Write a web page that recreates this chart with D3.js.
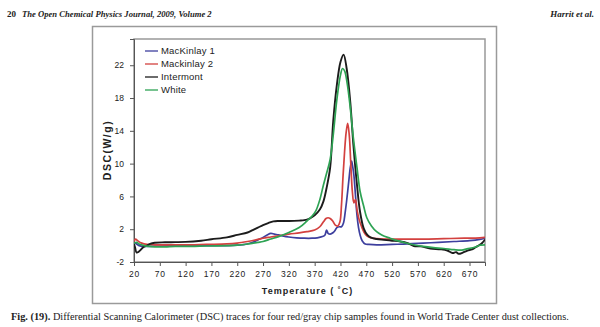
<!DOCTYPE html>
<html><head><meta charset="utf-8">
<script src="https://cdn.jsdelivr.net/npm/d3@7"></script>
<style>
html,body{margin:0;padding:0;background:#fff;}
svg{display:block;}
</style></head>
<body>
<script>
// ---- data ----
const seriesNames = ["MacKinlay 1", "Mackinlay 2", "Intermont", "White"];
const seriesColors = ["#3d3f9e", "#d3413f", "#1c1c1c", "#2ea354"];

const xTicks = [20,70,120,170,220,270,320,370,420,470,520,570,620,670];
const yTicks = [-2,2,6,10,14,18,22];

const tMacKinlay1 = [20,25,30,40,50,70,100,130,160,200,220,240,250,260,270,278,285,292,300,310,320,335,350,365,375,385,390,393,396,400,406,410,413,418,422,426,429,432,436,439,441.6,444,446,449,452,455,458,462,468,475,490,520,550,580,610,640,670,690,700];
const vMacKinlay1 = [0.4,0.2,0.0,-0.1,-0.1,-0.05,0.0,0.0,0.0,0.0,0.05,0.2,0.4,0.7,1.0,1.3,1.5,1.4,1.3,1.15,1.05,0.95,0.9,0.9,0.95,1.1,1.3,1.9,1.5,1.4,1.6,1.9,2.2,2.3,2.3,2.8,4.0,5.5,7.8,9.5,10.3,9.5,8.6,6.2,3.7,2.2,1.3,0.6,0.2,0.15,0.1,0.15,0.2,0.3,0.4,0.5,0.6,0.75,0.9];

const tMackinlay2 = [20,23,27,35,45,60,80,100,130,160,200,220,240,260,270,285,300,320,340,355,370,380,387,392,396,400,405,410,415,419,422,425,428,431,434,437,440,443,446,449,452,456,461,466,471,480,490,510,540,580,620,660,690,700];
const vMackinlay2 = [0.5,0.8,0.6,0.3,0.15,0.1,0.1,0.1,0.1,0.15,0.2,0.3,0.5,0.75,0.9,1.05,1.2,1.4,1.55,1.7,1.9,2.3,2.9,3.3,3.4,3.3,3.0,2.5,2.4,2.9,5.0,8.5,11.5,13.8,14.9,13.5,10.0,6.6,5.2,5.6,4.4,3.2,2.3,1.6,1.2,0.95,0.85,0.8,0.8,0.8,0.85,0.9,0.95,1.0];

const tIntermont = [20,22,25,30,38,45,51,60,80,100,120,150,170,200,220,240,250,260,270,280,290,300,320,340,350,360,370,380,387,393,400,406,413,420,426,432,439,445,452,458,465,472,478,490,504,520,536,550,562,575,594,614,627,637,644,649,657,666,675,682,690,695,700];
const vIntermont = [0.2,-0.2,-0.85,-0.7,-0.2,0.0,0.2,0.35,0.4,0.42,0.45,0.6,0.77,1.0,1.3,1.6,1.9,2.2,2.5,2.75,2.95,3.0,3.0,3.05,3.1,3.3,3.7,4.4,5.4,7.0,9.5,15.2,19.6,22.4,23.3,21.6,17.5,12.3,7.4,4.1,2.1,1.3,1.0,0.8,0.7,0.6,0.5,0.3,-0.05,-0.1,-0.35,-0.45,-0.6,-0.9,-0.8,-1.0,-0.85,-0.6,-0.45,-0.2,0.1,0.35,0.75];

const tWhite = [20,25,30,40,50,60,80,100,130,160,200,220,240,260,270,285,300,320,340,355,365,372,380,387,393,400,406,413,420,424,428,433,439,445,452,458,465,471,480,490,500,516,530,545,562,580,600,620,640,655,665,680,691,700];
const vWhite = [0.3,0.4,0.2,0.0,-0.1,-0.15,-0.15,-0.1,-0.1,-0.05,0.0,0.05,0.2,0.4,0.5,0.8,1.1,1.6,2.2,3.0,3.6,4.2,5.6,7.4,8.8,10.5,13.5,17.8,20.8,21.6,21.3,19.8,16.8,13.1,9.5,6.6,4.8,3.4,2.4,1.7,1.3,0.9,0.6,0.35,0.1,-0.1,-0.25,-0.35,-0.5,-0.55,-0.4,-0.2,0.05,0.1];

const seriesT = [tMacKinlay1, tMackinlay2, tIntermont, tWhite];
const seriesV = [vMacKinlay1, vMackinlay2, vIntermont, vWhite];

const headerPage = "20";
const headerLeft = "The Open Chemical Physics Journal, 2009, Volume 2";
const headerRight = "Harrit et al.";
const captionBold = "Fig. (19).";
const captionText = " Differential Scanning Calorimeter (DSC) traces for four red/gray chip samples found in World Trade Center dust collections.";
const xTitle = "Temperature ( \u02DAC)";
const yTitle = "DSC(W/g)";

// ---- drawing ----
const W = 600, H = 327;
const svg = d3.select("body").append("svg").attr("width", W).attr("height", H);

const sans = "'Liberation Sans', Arial, sans-serif";
const serif = "'Liberation Serif', 'Times New Roman', serif";

// header
svg.append("text").attr("x", 7).attr("y", 17)
  .attr("font-family", serif).attr("font-size", 9).attr("font-weight", "bold")
  .attr("fill", "#222").text(headerPage);
const hl = svg.append("text").attr("x", 22).attr("y", 17)
  .attr("font-family", serif).attr("font-size", 9).attr("font-weight", "bold").attr("font-style", "italic")
  .attr("fill", "#222").text(headerLeft);
svg.append("text").attr("x", 594).attr("y", 17).attr("text-anchor", "end")
  .attr("font-family", serif).attr("font-size", 9).attr("font-weight", "bold").attr("font-style", "italic")
  .attr("fill", "#222").text(headerRight);

// outer chart box
svg.append("rect").attr("x", 92.5).attr("y", 26.5).attr("width", 404).attr("height", 277)
  .attr("fill", "none").attr("stroke", "#9a9a9a").attr("stroke-width", 1.5);

const x = d3.scaleLinear().domain([20, 700]).range([134, 485]);
const y = d3.scaleLinear().domain([-2, 25.2]).range([262, 39]);

// plot area frame
svg.append("rect").attr("x", x(20)).attr("y", y(25.2)).attr("width", x(700) - x(20)).attr("height", y(-2) - y(25.2))
  .attr("fill", "none").attr("stroke", "#999").attr("stroke-width", 1.5);

// axes
const xAxis = d3.axisBottom(x).tickValues(xTicks).tickSize(4).tickPadding(5).tickFormat(d => String(d));
const gx = svg.append("g").attr("transform", `translate(0,${y(-2)})`).call(xAxis);
gx.select(".domain").attr("stroke", "#555").attr("stroke-width", 1);
gx.selectAll(".tick line").attr("stroke", "#555");
gx.selectAll(".tick text").attr("font-family", sans).attr("font-size", 8.5).attr("letter-spacing", 0.8).attr("fill", "#222");

const yAxis = d3.axisLeft(y).tickValues(yTicks).tickSize(4).tickPadding(6).tickFormat(d => String(d));
const gy = svg.append("g").attr("transform", `translate(${x(20)},0)`).call(yAxis);
gy.select(".domain").attr("stroke", "#555").attr("stroke-width", 1);
gy.selectAll(".tick line").attr("stroke", "#555");
gy.selectAll(".tick text").attr("font-family", sans).attr("font-size", 8.5).attr("fill", "#222");

// axis titles
svg.append("text").attr("x", (x(20) + x(700)) / 2 - 2).attr("y", 294)
  .attr("text-anchor", "middle").attr("font-family", sans).attr("font-size", 9).attr("font-weight", "bold")
  .attr("letter-spacing", 1).attr("fill", "#222").text(xTitle);
svg.append("text").attr("transform", `translate(111,150) rotate(-90)`)
  .attr("text-anchor", "middle").attr("font-family", sans).attr("font-size", 10.5).attr("font-weight", "bold")
  .attr("letter-spacing", 1.5).attr("fill", "#222").text(yTitle);

// curves
const line = d3.line().x(d => x(d[0])).y(d => y(d[1])).curve(d3.curveCatmullRom.alpha(0.5));
svg.append("clipPath").attr("id", "pc").append("rect")
  .attr("x", x(20)).attr("y", y(25.2)).attr("width", x(700) - x(20)).attr("height", y(-2) - y(25.2));
const gLines = svg.append("g").attr("clip-path", "url(#pc)");
seriesNames.forEach((name, i) => {
  const pts = seriesT[i].map((t, j) => [t, seriesV[i][j]]);
  gLines.append("path").attr("d", line(pts)).attr("fill", "none")
    .attr("stroke", seriesColors[i]).attr("stroke-width", i === 2 ? 1.9 : 1.7)
    .attr("stroke-linejoin", "round");
});

// legend
const lg = svg.append("g");
seriesNames.forEach((name, i) => {
  const yy = 51 + i * 13;
  lg.append("line").attr("x1", 145).attr("x2", 158).attr("y1", yy).attr("y2", yy)
    .attr("stroke", seriesColors[i]).attr("stroke-width", 1.3);
  lg.append("text").attr("x", 161).attr("y", yy + 3.3).attr("font-family", sans).attr("font-size", 9.5)
    .attr("letter-spacing", 0.2).attr("fill", "#222").text(name);
});

// caption
const cap = svg.append("text").attr("x", 11).attr("y", 320).attr("font-family", serif).attr("font-size", 9.5).attr("fill", "#222");
cap.append("tspan").attr("font-weight", "bold").text(captionBold);
cap.append("tspan").text(captionText);
const capLen = cap.node().getComputedTextLength();
cap.attr("font-size", 9.5 * 558 / capLen);

const hlLen = hl.node().getComputedTextLength();
hl.attr("font-size", 9 * 190 / hlLen);
</script>
</body></html>
